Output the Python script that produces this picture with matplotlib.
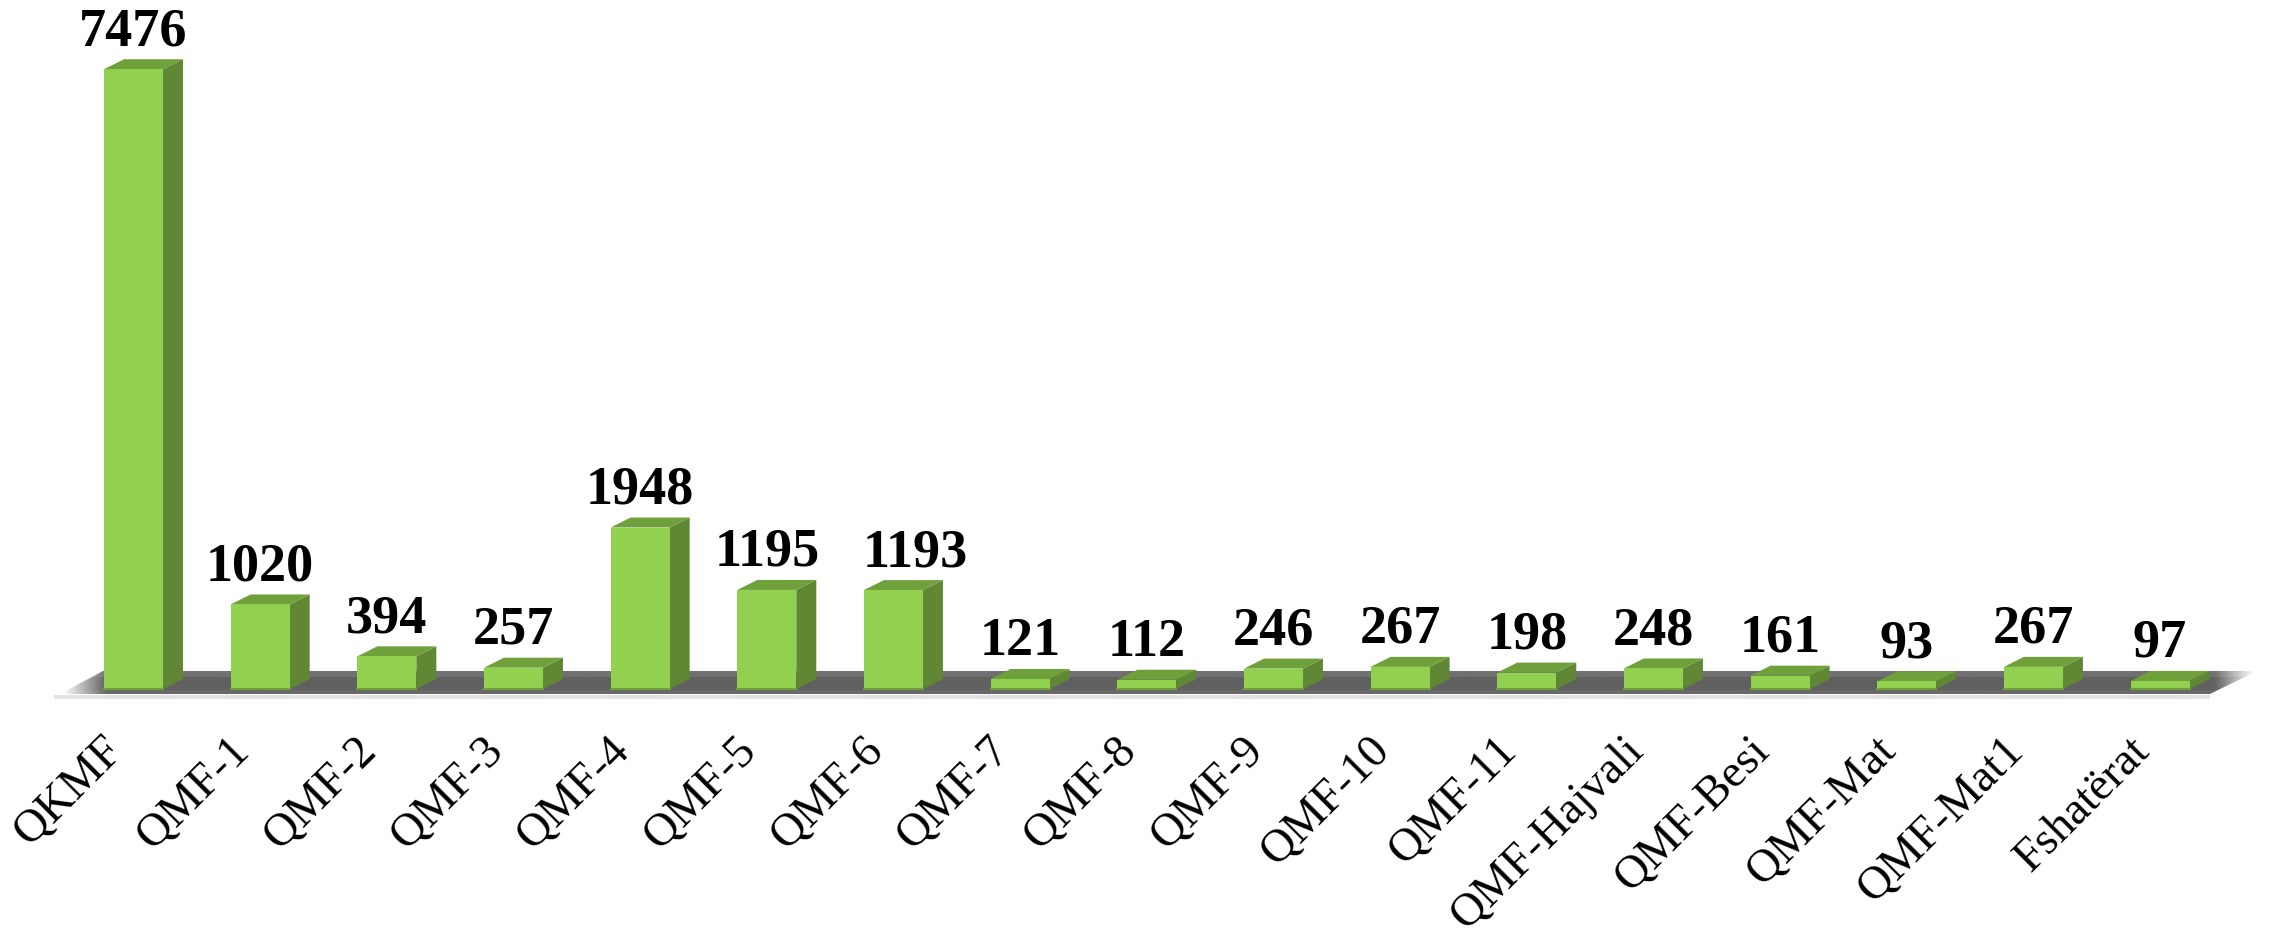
import matplotlib
matplotlib.use("Agg")
import matplotlib.pyplot as plt
import numpy as np
from matplotlib.patches import Polygon
from matplotlib.transforms import ScaledTranslation

plt.rcParams['font.family'] = ['Liberation Serif', 'DejaVu Serif']

sites = ['QKMF', 'QMF-1', 'QMF-2', 'QMF-3', 'QMF-4', 'QMF-5', 'QMF-6', 'QMF-7', 'QMF-8',
         'QMF-9', 'QMF-10', 'QMF-11', 'QMF-Hajvali', 'QMF-Besi', 'QMF-Mat', 'QMF-Mat1',
         'Fshatërat']
counts = [7476, 1020, 394, 257, 1948, 1195, 1193, 121, 112, 246, 267, 198, 248, 161, 93, 267, 97]

FRONT = '#92d050'
SIDE = '#608733'
TOP = '#70a03c'

W, H = 2277, 940
BASE_PX = 689          # y pixel of value 0
PX_PER_UNIT = 0.0829
PITCH = 126.66
X0_PX = 133.5          # centre of first bar

fig = plt.figure(figsize=(W / 100, H / 100), dpi=100)
ax = fig.add_axes([0, (H - BASE_PX) / H, 1, BASE_PX / H])


def px(x_pix, y_pix):
    # picture pixels to data, only used for the floor and the 3d depth
    return (x_pix - X0_PX) / PITCH, (BASE_PX - y_pix) / PX_PER_UNIT


# floor of the 3d chart, three grey bands that fade at both tips
floor = Polygon([px(60, 694), px(103, 671), px(2257, 671), px(2210, 694)], closed=True,
                facecolor='none', edgecolor='none', clip_on=False)
ax.add_patch(floor)
alpha = np.clip(np.minimum(np.linspace(0, 1, 400) / 0.02, np.linspace(1, 0, 400) / 0.018), 0, 1)
(xa, _), (xb, _) = px(60, 0), px(2257, 0)
for grey, band_top, band_bottom, z in [(0x60, 677, 690, 1), (0x70, 671, 677, 1.1), (0x69, 690, 695, 1.2)]:
    grad = np.zeros((2, 400, 4))
    grad[..., :3] = grey / 255
    grad[..., 3] = alpha
    im = ax.imshow(grad, extent=[xa, xb, px(0, band_bottom)[1], px(0, band_top)[1]], aspect='auto',
                   zorder=z, interpolation='bilinear')
    # the floor hangs below the axes, so the axes box must not clip it
    im.set_clip_box(fig.bbox)
    im.set_clip_path(floor)
ax.set_xlim(-X0_PX / PITCH, (W - X0_PX) / PITCH)
ax.set_ylim(0, BASE_PX / PX_PER_UNIT)

x0s, y0s = px(54, 695)
x1s, y1s = px(2210, 699)
ax.fill([x0s, x1s, x1s, x0s], [y0s, y0s, y1s, y1s], color='#e2e2e2', lw=0, zorder=1, clip_on=False)

# bars
half = 29.5 / PITCH
dx = 20 / PITCH
dy = 10 / PX_PER_UNIT
label_gap = 14 / PX_PER_UNIT
xpos = np.arange(len(sites))
ax.bar(xpos, counts, width=2 * half, color=FRONT, edgecolor='none', zorder=3)
for x, v in zip(xpos, counts):
    r = x + half
    l = x - half
    ax.add_patch(Polygon([(r, 0), (r + dx, dy), (r + dx, v + dy), (r, v)], closed=True,
                         facecolor=SIDE, edgecolor='none', zorder=2.8))
    ax.add_patch(Polygon([(l, v), (l + dx, v + dy), (r + dx, v + dy), (r, v)], closed=True,
                         facecolor=TOP, edgecolor='none', zorder=2.9))
    ax.plot([l, r], [0, 0], color='#6f9e3c', lw=1.5, zorder=3.2, clip_on=False)
    # the QMF-6 label was moved right by hand in the original
    shift = 22 / PITCH if sites[x] == 'QMF-6' else 0
    ax.text(x + shift, v + dy + label_gap, str(v), ha='center', va='baseline', fontsize=39,
            fontweight='bold', color='black', zorder=4, clip_on=False)

for s in ax.spines.values():
    s.set_visible(False)
ax.patch.set_alpha(0)
ax.set_yticks([])
ax.set_xticks(xpos)
ax.set_xticklabels(sites, rotation=45, ha='right', rotation_mode='anchor', fontsize=33.5)
ax.tick_params(axis='x', length=0, pad=29)
left_shift = ScaledTranslation(-32 / 100, 0, fig.dpi_scale_trans)
for lab in ax.get_xticklabels():
    lab.set_transform(lab.get_transform() + left_shift)

fig.savefig('out.png', dpi=100, facecolor='white')
